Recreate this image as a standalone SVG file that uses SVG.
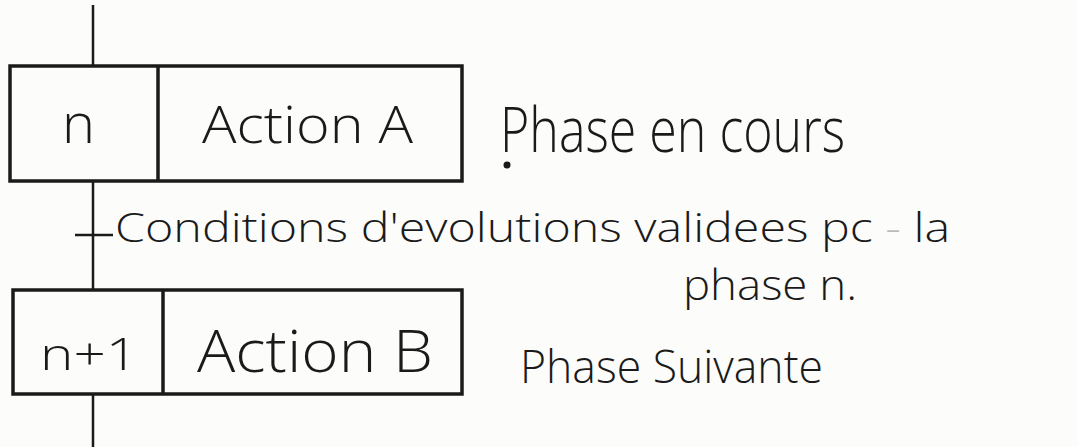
<svg xmlns="http://www.w3.org/2000/svg" width="1078" height="447" viewBox="0 0 1078 447">
<style>
.box{fill:none;stroke:#1a1a1a;stroke-width:3.5}
.ln{stroke:#1a1a1a;stroke-width:2.5;fill:none}
text{font-family:"Open Sans","Liberation Sans","DejaVu Sans",sans-serif;fill:#1a1a1a;font-weight:300}
</style>
<rect width="1078" height="447" fill="#fcfcfa"/>
<g id="connectors">
<line class="ln" x1="93" y1="5" x2="93" y2="66"/>
<line class="ln" x1="93" y1="182" x2="93" y2="290"/>
<line class="ln" x1="93" y1="394" x2="93" y2="447"/>
<line class="ln" x1="75" y1="235" x2="113" y2="235"/>
</g>
<g id="step-n">
<rect class="box" x="10" y="66" width="452" height="115"/>
<line class="box" x1="158" y1="66" x2="158" y2="181"/>
<text x="62" y="143" font-size="56" textLength="33" lengthAdjust="spacingAndGlyphs">n</text>
<text x="202" y="143" font-size="52" textLength="211" lengthAdjust="spacingAndGlyphs">Action A</text>
</g>
<g id="step-n1">
<rect class="box" x="13" y="290" width="449" height="104"/>
<line class="box" x1="163" y1="290" x2="163" y2="394"/>
<text x="40" y="370" font-size="44" textLength="98" lengthAdjust="spacingAndGlyphs">n+1</text>
<text x="197" y="372" font-size="58" textLength="236" lengthAdjust="spacingAndGlyphs">Action B</text>
</g>
<g id="labels">
<text x="500" y="152" font-size="62" textLength="345" lengthAdjust="spacingAndGlyphs">Phase en cours</text>
<circle cx="507" cy="165" r="3.5" fill="#1a1a1a"/>
<text x="115" y="242" font-size="40" textLength="835" lengthAdjust="spacingAndGlyphs">Conditions d'evolutions validees pc <tspan fill="#bbbbbb">-</tspan> la</text>
<text x="683" y="300" font-size="42" textLength="174" lengthAdjust="spacingAndGlyphs">phase n.</text>
<text x="520" y="383" font-size="46" textLength="303" lengthAdjust="spacingAndGlyphs">Phase Suivante</text>
</g>
</svg>
